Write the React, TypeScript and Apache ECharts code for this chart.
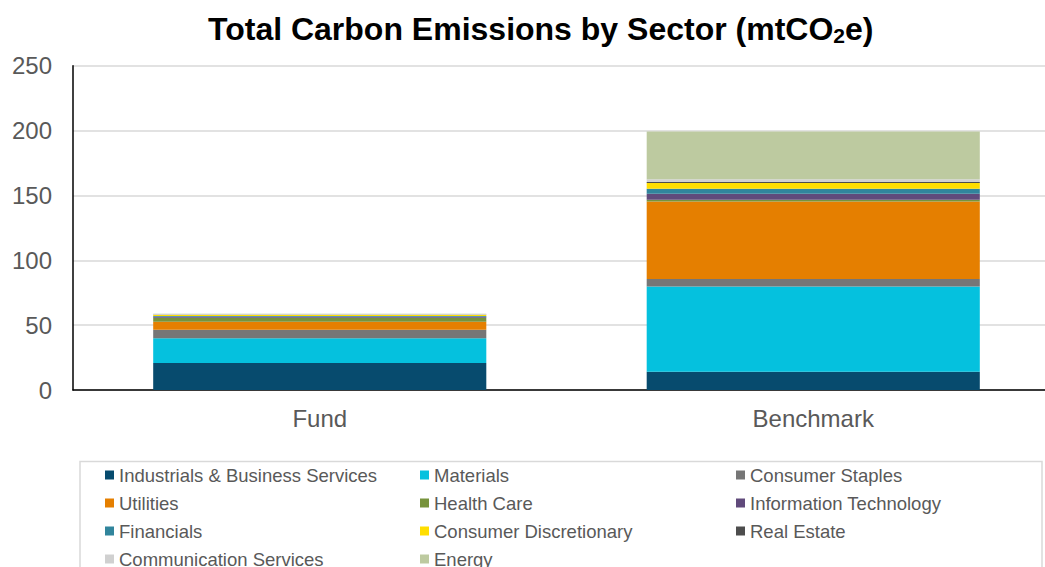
import React, { useEffect, useRef } from "react";
import * as echarts from "echarts";

const categories = ["Fund", "Benchmark"];
const sectors = [
  "Industrials & Business Services",
  "Materials",
  "Consumer Staples",
  "Utilities",
  "Health Care",
  "Information Technology",
  "Financials",
  "Consumer Discretionary",
  "Real Estate",
  "Communication Services",
  "Energy",
];
const fundValues = [20.8, 19.0, 6.6, 6.2, 3.1, 0.8, 0.6, 0.7, 0.3, 0.5, 0.2];
const benchmarkValues = [14.1, 65.6, 5.9, 59.8, 1.3, 4.6, 3.8, 4.4, 0.8, 2.1, 36.9];
const colors = [
  "#074b6e",
  "#05c1de",
  "#767676",
  "#e57f00",
  "#77933c",
  "#604a7b",
  "#31859c",
  "#ffde00",
  "#4d4d4d",
  "#d0d0d0",
  "#bdcaa0",
];
const yTicks = [0, 50, 100, 150, 200, 250];
const legendColumns = [
  ["Industrials & Business Services", "Utilities", "Financials", "Communication Services"],
  ["Materials", "Health Care", "Consumer Discretionary", "Energy"],
  ["Consumer Staples", "Information Technology", "Real Estate"],
];

export default function App() {
  const ref = useRef<HTMLDivElement>(null);
  useEffect(() => {
    document.body.style.margin = "0";
    const chart = echarts.init(ref.current!, undefined, { renderer: "svg" });
    const font = "Liberation Sans, Arial, sans-serif";
    const legendLefts = [105, 420, 736];
    chart.setOption({
      animation: false,
      textStyle: { fontFamily: font },
      title: {
        text: "{a|Total Carbon Emissions by Sector (mtCO}{b|2}{a|e)}",
        left: 208,
        top: 11,
        padding: 0,
        textStyle: {
          rich: {
            a: { fontSize: 32, fontWeight: "bold", color: "#000", fontFamily: font },
            b: { fontSize: 21, fontWeight: "bold", color: "#000", fontFamily: font, padding: [14, 0, 0, 0] },
          },
        },
      },
      grid: {
        left: 73,
        width: 987,
        top: 65.7,
        bottom: 177,
        containLabel: false,
        outerBoundsMode: "none",
      },
      xAxis: {
        type: "category",
        data: categories,
        axisLine: { lineStyle: { color: "#000", width: 1.5 } },
        axisTick: { show: false },
        axisLabel: { color: "#595959", fontSize: 24, margin: 16 },
      },
      yAxis: {
        type: "value",
        min: yTicks[0],
        max: yTicks[yTicks.length - 1],
        interval: 50,
        axisLine: { show: true, lineStyle: { color: "#000", width: 1.5 } },
        axisTick: { show: false },
        splitLine: { lineStyle: { color: "#d9d9d9", width: 1.5 } },
        axisLabel: { color: "#595959", fontSize: 24, margin: 21 },
      },
      legend: legendColumns.map((col, i) => ({
        data: col,
        orient: "vertical",
        left: legendLefts[i],
        top: 465,
        height: 200,
        itemWidth: 9,
        itemHeight: 9,
        itemGap: 8,
        icon: "rect",
        selectedMode: false,
        padding: 0,
        textStyle: { color: "#595959", fontSize: 18.5, lineHeight: 20, fontFamily: font },
      })),
      graphic: [
        {
          type: "rect",
          shape: { x: 80, y: 461.5, width: 962, height: 130 },
          style: { fill: "none", stroke: "#d9d9d9", lineWidth: 1.5 },
          silent: true,
          z: -1,
        },
      ],
      series: sectors.map((name, i) => ({
        name,
        type: "bar",
        stack: "total",
        barWidth: "67.5%",
        itemStyle: { color: colors[i] },
        data: [fundValues[i], benchmarkValues[i]],
      })),
    });
    return () => chart.dispose();
  }, []);
  return <div ref={ref} style={{ width: 1045, height: 567 }} />;
}
